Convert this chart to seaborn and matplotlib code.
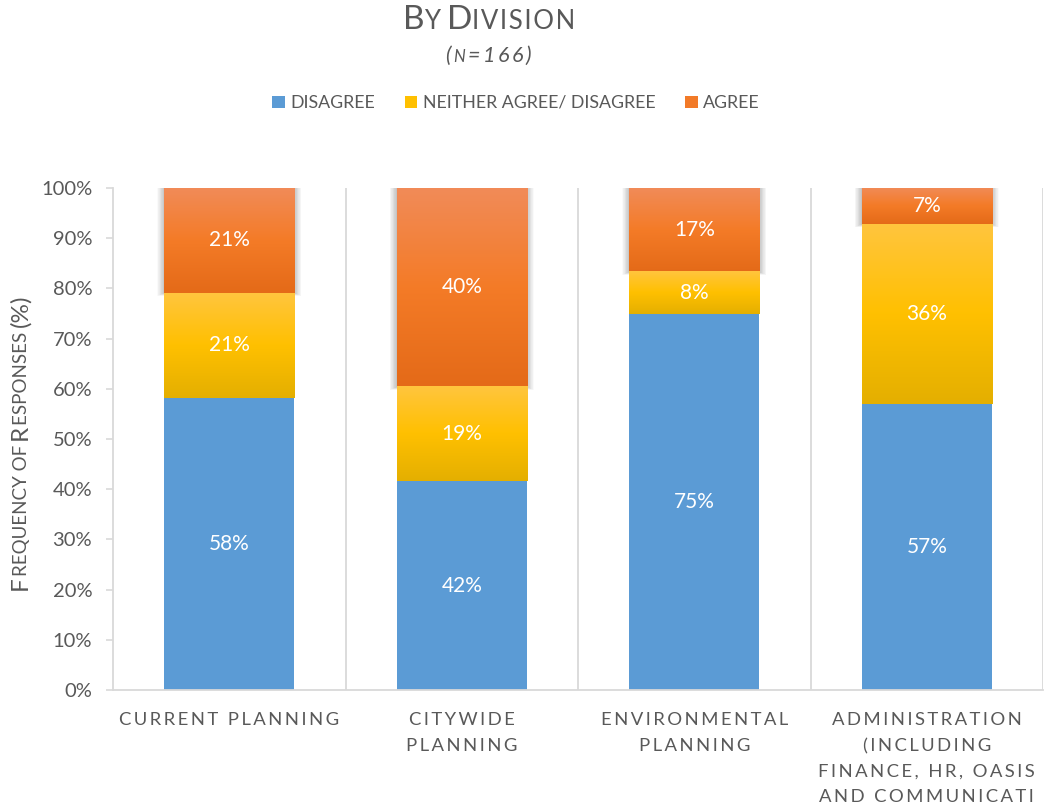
import numpy as np
import pandas as pd
import matplotlib
matplotlib.use("Agg")
import matplotlib.pyplot as plt
import seaborn as sns
from matplotlib.patches import Patch
from matplotlib.colors import LinearSegmentedColormap

# ---------------- data ----------------
division_ids = ["current", "citywide", "environmental", "administration"]
tick_labels = ["CURRENT PLANNING",
               "CITYWIDE\nPLANNING",
               "ENVIRONMENTAL\nPLANNING",
               "ADMINISTRATION\n(INCLUDING\nFINANCE, HR, OASIS\nAND COMMUNICATI"]
series_names = ["DISAGREE", "NEITHER AGREE/ DISAGREE", "AGREE"]
disagree = [58.2, 41.6, 74.9, 57.0]
neither = [20.9, 18.8, 8.4, 35.8]
agree = [20.9, 39.6, 16.7, 7.2]
y_ticks = [0, 10, 20, 30, 40, 50, 60, 70, 80, 90, 100]

# ---------------- style ----------------
sns.set_theme(style="white")
plt.rcParams["font.family"] = ["Lato", "DejaVu Sans"]
GRAY = "#595959"
LINE = "#d9d9d9"
BLUE = "#5B9BD5"
YELLOW = "#FFC000"
ORANGE = "#F27A28"

W_PX, H_PX = 1045, 810
fig = plt.figure(figsize=(W_PX / 100, H_PX / 100), dpi=100)
ax = fig.add_axes([113 / W_PX, 1 - 690 / H_PX, (1043 - 113) / W_PX, (690 - 188) / H_PX])

df = pd.DataFrame({"division": division_ids,
                   "disagree": disagree, "neither": neither, "agree": agree})
df["cum_neither"] = df["disagree"] + df["neither"]
df["cum_agree"] = df["cum_neither"] + df["agree"]

BAR_W = 0.56
layers = [("cum_agree", ORANGE), ("cum_neither", YELLOW), ("disagree", BLUE)]
for col, colr in layers:
    sns.barplot(data=df, x="division", y=col, order=division_ids, color=colr,
                saturation=1, width=BAR_W, linewidth=0, ax=ax, errorbar=None)

n = len(division_ids)
orange_patches = ax.patches[0:n]
yellow_patches = ax.patches[n:2 * n]

# soft shadow around the orange (top) segments
for i in range(n):
    p = orange_patches[i]
    x0, w = p.get_x(), p.get_width()
    lo, hi = df["cum_neither"][i], df["cum_agree"][i]
    for k in np.linspace(0.03, 0.002, 12):
        ax.fill_between([x0 - k, x0 + w + k], lo - k * 20, hi, color="black", alpha=0.018,
                        lw=0, zorder=p.get_zorder() - 0.2)

# gradient overlays on orange/yellow segments
orange_cmap = LinearSegmentedColormap.from_list("o", ["#E46A18", "#F47B27", "#F18B58"])
yellow_cmap = LinearSegmentedColormap.from_list("y", ["#E4AF00", "#FFC000", "#FFC53E"])
grad = np.linspace(0, 1, 256).reshape(-1, 1)
for i in range(n):
    for p, lo, hi, cmap in [(orange_patches[i], df["cum_neither"][i], df["cum_agree"][i], orange_cmap),
                            (yellow_patches[i], df["disagree"][i], df["cum_neither"][i], yellow_cmap)]:
        x0 = p.get_x()
        ax.imshow(grad, cmap=cmap, origin="lower", aspect="auto",
                  extent=(x0, x0 + p.get_width(), lo, hi), zorder=p.get_zorder() + 0.1,
                  interpolation="bicubic")

# value labels
for i in range(n):
    segs = [(0, disagree[i]), (disagree[i], neither[i]), (disagree[i] + neither[i], agree[i])]
    for b, v in segs:
        ax.text(i, b + v / 2, f"{round(v)}%", ha="center", va="center",
                color="white", fontsize=15, zorder=10)

# axes styling
ax.set_xlim(-0.5, 3.5)
ax.set_ylim(0, 100)
ax.set_yticks(y_ticks)
ax.set_yticklabels([f"{t}%" for t in y_ticks], color=GRAY, fontsize=14.5)
ax.set_xticks(range(n))
spaced = ["\n".join("\u2009".join(list(line)) for line in lab.split("\n")) for lab in tick_labels]
ax.set_xticklabels(spaced, color=GRAY, fontsize=13.3, linespacing=1.74, va="top")
ax.set_xticks([0.5, 1.5, 2.5, 3.5], minor=True)
ax.grid(False)
ax.grid(which="minor", axis="x", color=LINE, lw=1.3)
ax.tick_params(axis="y", which="major", length=5, color=LINE, width=1.2, pad=10, left=True)
ax.tick_params(axis="x", which="both", length=0, pad=16)
ax.set_xlabel("")
ax.set_ylabel("")
for s in ["top", "right"]:
    ax.spines[s].set_visible(False)
for s in ["left", "bottom"]:
    ax.spines[s].set_color(LINE)
    ax.spines[s].set_linewidth(1.3)

# legend
handles = [Patch(facecolor=c, edgecolor="none") for c in [BLUE, YELLOW, ORANGE]]
fig.legend(handles, series_names, ncol=3, loc="center",
           bbox_to_anchor=(516 / W_PX, 1 - 103 / H_PX), frameon=False,
           handlelength=0.7, handleheight=0.7, handletextpad=0.3,
           columnspacing=1.7, fontsize=12.8, labelcolor=GRAY)


# small-caps text helper
def draw_runs(cx, cy, runs, rotation=0, **kw):
    r = fig.canvas.get_renderer()
    widths = []
    for s, size in runs:
        t1 = fig.text(0, 0, s + "|", fontsize=size, **kw)
        t2 = fig.text(0, 0, "|", fontsize=size, **kw)
        widths.append(t1.get_window_extent(r).width - t2.get_window_extent(r).width)
        t1.remove()
        t2.remove()
    pos = -sum(widths) / 2
    for (s, size), w in zip(runs, widths):
        if rotation == 0:
            px, py = cx + pos, cy
        else:
            px, py = cx, cy + pos
        fig.text(px / W_PX, py / H_PX, s, fontsize=size, rotation=rotation,
                 rotation_mode="anchor", ha="left", va="baseline", **kw)
        pos += w


BIG, SMALL = 24, 18.5
sp1 = "\u200a"
draw_runs(489, H_PX - 29, [("B", BIG), ("Y", SMALL), (" ", SMALL), ("D", BIG),
                           (sp1.join("IVISION"), SMALL)],
          color=GRAY)
sp = "\u2009"
draw_runs(489, H_PX - 62, [("(" + sp, 15.5), ("N" + sp, 12), ("=" + sp + "1" + sp + "6" + sp + "6" + sp + ")", 15.5)],
          color=GRAY, style="italic")
YB, YS = 17.5, 13.5
draw_runs(27, H_PX - 442, [("F", YB), ("REQUENCY OF ", YS), ("R", YB), ("ESPONSES ", YS), ("(%)", YB)],
          rotation=90, color=GRAY)

fig.savefig("out.png", dpi=100)
